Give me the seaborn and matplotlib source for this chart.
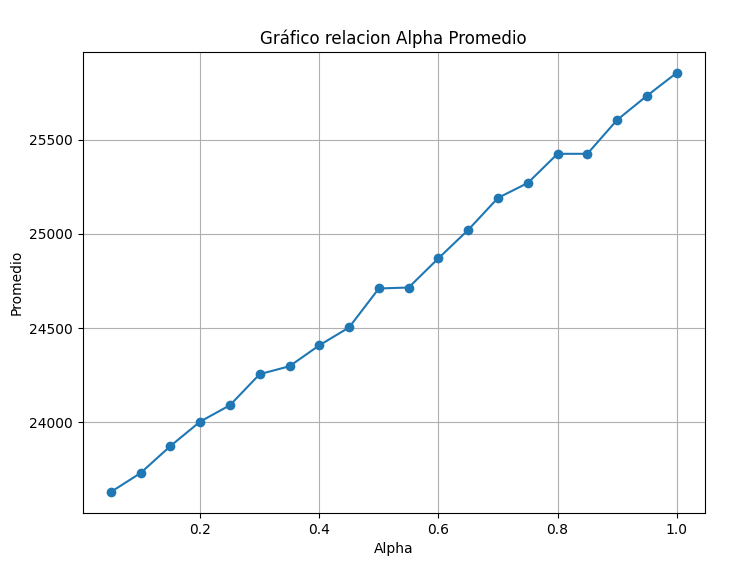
import seaborn as sns
import matplotlib.pyplot as plt
import pandas as pd

# Data
alpha = [0.05, 0.10, 0.15, 0.20, 0.25, 0.30, 0.35, 0.40, 0.45, 0.50,
         0.55, 0.60, 0.65, 0.70, 0.75, 0.80, 0.85, 0.90, 0.95, 1.00]
promedio = [23629, 23730, 23873, 24003, 24090, 24255, 24297, 24408, 24503, 24710,
            24715, 24870, 25021, 25191, 25270, 25425, 25425, 25605, 25733, 25855]

df = pd.DataFrame({"Alpha": alpha, "Promedio": promedio})

fig, ax = plt.subplots(figsize=(7.5, 5.7), dpi=100)
sns.lineplot(data=df, x="Alpha", y="Promedio", marker="o", markersize=7,
             markeredgewidth=0, color="#1f77b4", ax=ax)
ax.set_title("Gráfico relacion Alpha Promedio")
ax.set_xlabel("Alpha")
ax.set_ylabel("Promedio")
ax.grid(True)
fig.subplots_adjust(left=0.11, right=0.94, top=0.909, bottom=0.1)
fig.savefig("out.png")
